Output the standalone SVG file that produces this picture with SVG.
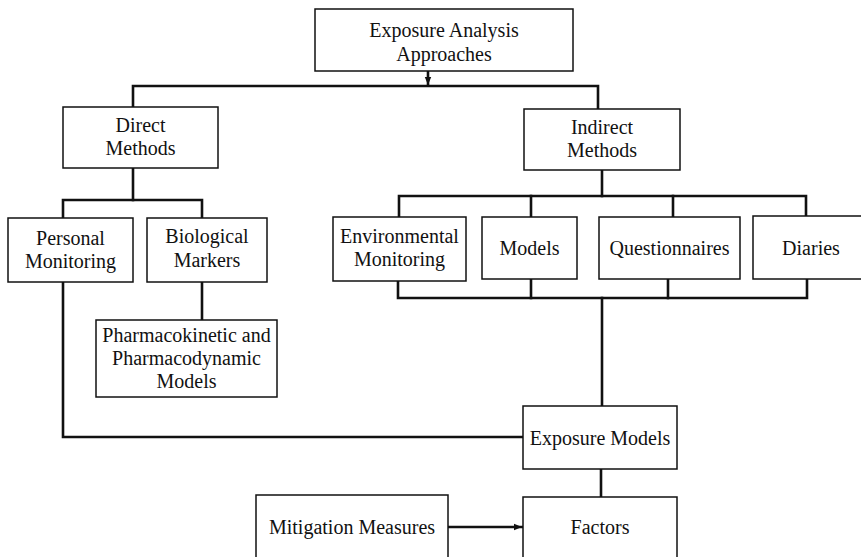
<svg xmlns="http://www.w3.org/2000/svg" width="861" height="557" viewBox="0 0 861 557">
<style>
.box{fill:#fff;stroke:#111;stroke-width:1.5}
.lbl{font-family:"Liberation Serif","Times New Roman",serif;font-size:20px;fill:#111;text-anchor:middle}
.conn{fill:none;stroke:#111;stroke-width:2.6;stroke-linecap:square;stroke-linejoin:miter}
</style>
<defs>
<marker id="arr" viewBox="0 0 10 10" refX="10" refY="5" markerWidth="8" markerHeight="8" markerUnits="userSpaceOnUse" orient="auto">
<path d="M0,1 L10,5 L0,9 z" fill="#111"/>
</marker>
</defs>
<rect width="861" height="557" fill="#fff"/>
<g id="connectors">
<path class="conn" d="M133,107 V86 H598 V109"/>
<path class="conn" d="M428,71 V85" stroke-width="2" marker-end="url(#arr)"/>
<path class="conn" d="M133,168 V200"/>
<path class="conn" d="M63,218 V200 H202 V218"/>
<path class="conn" d="M202,282 V320" stroke-width="2"/>
<path class="conn" d="M602,170 V196"/>
<path class="conn" d="M399,217 V196 H806 V216"/>
<path class="conn" d="M531,196 V217"/>
<path class="conn" d="M673,196 V217"/>
<path class="conn" d="M398,281 V298 H807 V279"/>
<path class="conn" d="M531,279 V298"/>
<path class="conn" d="M668,279 V298"/>
<path class="conn" d="M602,298 V406" stroke-width="2"/>
<path class="conn" d="M63,282 V437 H523"/>
<path class="conn" d="M601,469 V497"/>
<path class="conn" d="M448,527 H522" stroke-width="2" marker-end="url(#arr)"/>
</g>
<g id="exposure-analysis-approaches">
<rect class="box" x="315" y="9" width="258" height="62"/>
<text class="lbl" x="444" y="37">Exposure Analysis</text>
<text class="lbl" x="444" y="61">Approaches</text>
</g>
<g id="direct-methods">
<rect class="box" x="63" y="107" width="155" height="61"/>
<text class="lbl" x="140.5" y="132">Direct</text>
<text class="lbl" x="140.5" y="155">Methods</text>
</g>
<g id="indirect-methods">
<rect class="box" x="524" y="109" width="156" height="61"/>
<text class="lbl" x="602" y="134">Indirect</text>
<text class="lbl" x="602" y="157">Methods</text>
</g>
<g id="personal-monitoring">
<rect class="box" x="8" y="218" width="125" height="64"/>
<text class="lbl" x="70.5" y="245">Personal</text>
<text class="lbl" x="70.5" y="268">Monitoring</text>
</g>
<g id="biological-markers">
<rect class="box" x="147" y="218" width="120" height="64"/>
<text class="lbl" x="207" y="243">Biological</text>
<text class="lbl" x="207" y="267">Markers</text>
</g>
<g id="pk-pd-models">
<rect class="box" x="96" y="320" width="181" height="77"/>
<text class="lbl" x="186.5" y="342">Pharmacokinetic and</text>
<text class="lbl" x="186.5" y="365">Pharmacodynamic</text>
<text class="lbl" x="186.5" y="388">Models</text>
</g>
<g id="environmental-monitoring">
<rect class="box" x="333" y="217" width="133" height="64"/>
<text class="lbl" x="399.5" y="243">Environmental</text>
<text class="lbl" x="399.5" y="266">Monitoring</text>
</g>
<g id="models">
<rect class="box" x="482" y="217" width="95" height="62"/>
<text class="lbl" x="529.5" y="255">Models</text>
</g>
<g id="questionnaires">
<rect class="box" x="599" y="217" width="141" height="62"/>
<text class="lbl" x="669.5" y="255">Questionnaires</text>
</g>
<g id="diaries">
<rect class="box" x="753" y="216" width="117" height="63"/>
<text class="lbl" x="811" y="255">Diaries</text>
</g>
<g id="exposure-models">
<rect class="box" x="523" y="406" width="154" height="63"/>
<text class="lbl" x="600" y="445">Exposure Models</text>
</g>
<g id="mitigation-measures">
<rect class="box" x="256" y="495" width="192" height="75"/>
<text class="lbl" x="352" y="534">Mitigation Measures</text>
</g>
<g id="factors">
<rect class="box" x="523" y="497" width="154" height="73"/>
<text class="lbl" x="600" y="534">Factors</text>
</g>
</svg>
